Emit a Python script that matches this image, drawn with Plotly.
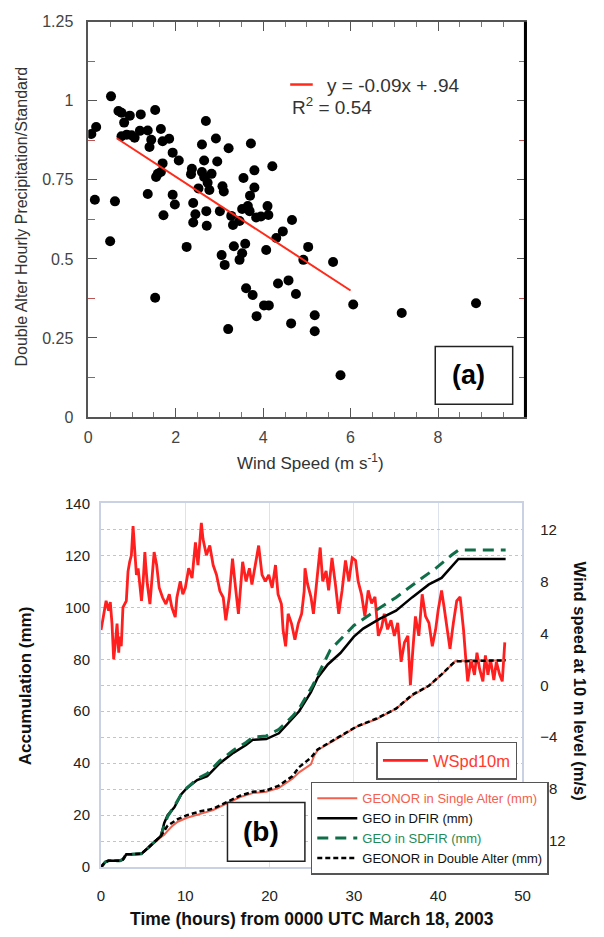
import plotly.graph_objects as go

# ---------------- (a) hourly catch ratio vs wind speed ----------------
wind_speed = [
    0.52, 0.07, 0.18, 0.15, 0.61, 0.69, 0.76, 0.95, 0.82, 1.20, 1.53, 0.76, 0.88, 0.99,
    1.06, 1.18, 1.36, 1.44, 1.40, 1.66, 1.70, 1.85, 1.93, 2.07, 1.70, 1.66, 1.59, 1.55,
    1.36, 1.93, 1.98, 1.72, 2.69, 2.92, 3.21, 2.60, 2.65, 2.95, 2.37, 2.35, 2.60, 2.65,
    2.82, 2.73, 2.52, 2.77, 3.10, 2.40, 2.45, 2.70, 3.01, 2.40, 2.71, 3.27, 3.31,
    3.72, 4.21, 3.80, 3.55, 3.80, 3.70, 3.07, 3.52, 3.65, 3.69, 4.10, 4.12, 3.84, 3.95,
    3.46, 4.66, 4.45, 4.30, 3.33, 3.59, 3.52, 3.46, 3.05, 3.12, 4.07, 5.03, 4.92, 5.60,
    3.61, 3.76, 4.02, 4.13, 3.85, 4.34, 4.58, 4.75, 6.06, 5.18, 4.64, 5.18, 3.20,
    0.50, 1.53, 2.25, 7.17, 8.87, 5.77,
]
catch_ratio = [
    1.014, 0.895, 0.917, 0.687, 0.682, 0.968, 0.962, 0.953, 0.931, 0.957, 0.971, 0.888, 0.893, 0.891,
    0.883, 0.905, 0.906, 0.877, 0.854, 0.911, 0.872, 0.880, 0.836, 0.811, 0.802, 0.775, 0.769, 0.759,
    0.705, 0.703, 0.672, 0.638, 0.936, 0.881, 0.850, 0.862, 0.811, 0.808, 0.785, 0.768, 0.775, 0.759,
    0.769, 0.741, 0.723, 0.718, 0.713, 0.677, 0.641, 0.651, 0.651, 0.615, 0.605, 0.636, 0.607,
    0.865, 0.793, 0.780, 0.756, 0.726, 0.700, 0.730, 0.658, 0.667, 0.651, 0.667, 0.639, 0.631, 0.634,
    0.620, 0.623, 0.587, 0.566, 0.540, 0.548, 0.518, 0.497, 0.512, 0.481, 0.528, 0.538, 0.497, 0.490,
    0.407, 0.386, 0.353, 0.353, 0.319, 0.422, 0.432, 0.389, 0.356, 0.322, 0.296, 0.271, 0.278,
    0.556, 0.377, 0.538, 0.329, 0.360, 0.132,
]
fit_slope = -0.09
fit_intercept = 0.94
fit_x = [0.65, 6.0]
fit_y = [fit_slope * x + fit_intercept for x in fit_x]
r_squared = 0.54

# ---------------- (b) accumulation and wind at 10 m ----------------
t_dfir = [0, 0.5, 0.9, 2.25, 2.6, 3.0, 3.6, 4.4, 4.8, 5.6, 6.1, 6.7, 7.1, 7.5, 7.9, 8.7, 9.5,
          10.2, 11.4, 12.6, 14.1, 15.7, 17.2, 18.0, 19.6, 21.1, 22.7, 23.5, 24.9, 25.7, 26.9,
          28.4, 30.0, 31.1, 33.1, 35.0, 36.9, 38.9, 40.4, 41.4, 42.4, 48.0]
acc_dfir = [0, 2, 2.5, 2.5, 3, 5, 5, 5, 5.2, 7.5, 9, 10.5, 12, 17, 20, 23, 28,
            30.5, 33.5, 35, 40, 44, 47, 49, 49.3, 51.5, 57, 60, 67.3, 72.9, 78,
            82.4, 88.7, 91.8, 95.6, 98.7, 103.8, 108.8, 111.3, 115, 118.6, 118.6]

t_sdfir = [0, 0.5, 0.9, 2.25, 2.6, 3.0, 3.6, 4.4, 4.8, 5.6, 6.1, 6.7, 7.1, 7.5, 7.9, 8.7, 9.5,
           10.2, 11.4, 12.6, 14.1, 15.7, 17.2, 18.0, 19.6, 21.1, 22.7, 23.5, 25.1, 27.2,
           30.0, 32.3, 35.0, 37.3, 39.7, 41.6, 42.4, 48.0]
acc_sdfir = [0, 2, 2.5, 2.5, 3, 5, 5, 5, 5.2, 7.5, 9, 10.5, 12, 16, 19.5, 23.5, 28,
             30.5, 34, 36, 41, 45, 48, 50, 50.5, 53, 58, 61, 69.8, 83.6,
             93, 98.1, 103.8, 109.4, 115, 120.1, 122, 122]

t_single = [0, 0.5, 0.9, 2.25, 2.6, 3.0, 3.6, 4.4, 4.8, 5.6, 6.1, 6.7, 7.1, 7.5, 7.9, 8.5, 9.1,
            10.2, 11.8, 13.3, 14.9, 16.5, 18.0, 19.6, 21.1, 22.7, 23.5, 24.9, 25.3, 25.7,
            28.0, 30.3, 32.7, 35.0, 36.9, 38.9, 40.4, 42.0, 48.0]
acc_single = [0, 2, 2.5, 2.5, 3, 5, 5, 5, 5.2, 7.5, 9, 10.5, 11.5, 12.5, 14, 16, 17.5,
              19, 20.5, 22, 24.5, 27, 28.5, 29, 30.5, 34, 36.5, 39.6, 43, 45,
              49.5, 54, 57, 61, 66, 69.8, 74, 79.2, 79.6]

t_double = [0, 0.5, 0.9, 2.25, 2.6, 3.0, 3.6, 4.4, 4.8, 5.6, 6.1, 6.7, 7.1, 7.5, 7.9, 9.1,
            10.2, 11.8, 13.3, 14.9, 16.5, 18.0, 19.6, 21.1, 22.7, 23.5, 24.9, 25.7,
            28.0, 30.3, 32.7, 35.0, 36.9, 38.9, 40.4, 42.0, 48.0]
acc_double = [0, 2, 2.5, 2.5, 3, 5, 5, 5, 5.2, 7.5, 9, 10.5, 12, 14, 16, 18.5,
              20, 21.5, 22.5, 25, 27.5, 29, 29.5, 31.4, 35, 38.5, 42.1, 45.3,
              49.7, 54.1, 57.2, 61, 66.3, 69.8, 74.2, 79.2, 79.6]

t_wind = [0.0, 0.3, 0.6, 0.9, 1.1, 1.3, 1.5, 1.7, 1.9, 2.1, 2.2, 2.4, 2.6, 3.0, 3.2, 3.4, 3.6,
          3.8, 4.0, 4.2, 4.4, 4.6, 4.8, 5.0, 5.2, 5.3, 5.5, 5.8, 6.1, 6.3, 6.6, 6.9, 7.3, 7.7,
          8.1, 8.4, 8.8, 9.0, 9.4, 9.7, 10.0, 10.4, 10.8, 11.2, 11.5, 11.9, 12.1, 12.5, 12.9,
          13.3, 13.7, 14.1, 14.5, 14.8, 15.2, 15.6, 16.0, 16.3, 16.8, 17.2, 17.6, 17.9, 18.3,
          18.7, 19.1, 19.5, 19.9, 20.3, 20.7, 21.0, 21.4, 21.6, 21.9, 22.2, 22.6, 23.0, 23.4,
          23.8, 24.1, 24.2, 24.5, 24.9, 25.2, 25.5, 26.0, 26.3, 26.7, 27.0, 27.4, 27.8, 28.2,
          28.6, 29.0, 29.4, 29.8, 30.2, 30.5, 30.9, 31.3, 31.7, 32.1, 32.5, 32.9, 33.3, 33.6,
          34.0, 34.4, 34.8, 35.2, 35.6, 36.0, 36.4, 36.7, 37.0, 37.3, 37.7, 38.1, 38.5, 38.9,
          39.3, 39.7, 40.0, 40.4, 40.7, 41.1, 41.4, 41.8, 42.2, 42.6, 43.0, 43.3, 43.5, 43.9,
          44.3, 44.6, 44.9, 45.3, 45.6, 45.9, 46.2, 46.6, 46.9, 47.3, 47.6, 47.9]
wspd10m = [4.25, 5.5, 6.5, 5.75, 6.4, 4.75, 2.0, 3.25, 4.75, 2.5, 3.75, 3.0, 6.0, 6.5, 8.75, 9.5, 10.0,
           12.25, 10.5, 8.5, 9.0, 7.75, 6.5, 8.0, 10.25, 9.25, 7.75, 6.25, 8.5, 10.25, 9.25, 7.5, 6.75, 6.25,
           7.0, 6.0, 5.25, 6.75, 8.0, 7.0, 7.5, 9.0, 8.25, 11.0, 9.25, 12.5, 11.25, 10.0, 10.75,
           9.25, 8.5, 7.25, 6.75, 5.0, 6.75, 9.75, 7.25, 5.5, 9.5, 8.0, 9.0, 7.75, 9.25,
           10.75, 8.5, 8.0, 8.5, 7.5, 9.25, 7.0, 6.25, 4.25, 3.0, 5.5, 4.75, 3.5, 4.75,
           5.5, 7.25, 9.0, 7.8, 6.8, 5.5, 7.5, 10.6, 8.0, 8.8, 7.3, 9.8, 7.8, 5.5,
           7.3, 9.6, 8.0, 9.8, 9.6, 8.0, 7.0, 5.3, 7.3, 6.3, 6.8, 3.8, 4.5, 5.5,
           4.3, 5.0, 3.8, 4.8, 1.8, 3.3, 3.8, 0.0, 2.8, 5.3, 3.8, 7.0, 5.3, 4.8,
           3.0, 4.3, 5.8, 7.3, 6.0, 4.3, 2.8, 4.8, 6.5, 6.8, 4.3, 1.8, 0.3, 2.0,
           0.8, 2.5, 1.3, 0.3, 2.3, 0.8, 2.0, 0.4, 1.8, 0.8, 0.3, 3.3]

accum_ticks = [0, 20, 40, 60, 80, 100, 120, 140]
wind_ticks = [-12, -8, -4, 0, 4, 8, 12]
time_ticks = [0, 10, 20, 30, 40, 50]

W, H = 604, 937
FONT = "Liberation Sans, Arial, sans-serif"


def fx(p):
    return p / W


def fy(p):
    return 1 - p / H


fig = go.Figure()

# panel (a)
fig.add_trace(go.Scatter(
    x=wind_speed, y=catch_ratio, mode="markers", xaxis="x", yaxis="y",
    marker=dict(color="black", size=10), showlegend=False, hoverinfo="x+y"))
fig.add_trace(go.Scatter(
    x=fit_x, y=fit_y, mode="lines", xaxis="x", yaxis="y",
    line=dict(color="#ff2a1a", width=2), showlegend=False))

# panel (b): wind on the base axis so the gauge curves draw above it
fig.add_trace(go.Scatter(
    x=t_wind, y=wspd10m, mode="lines", xaxis="x2", yaxis="y2",
    line=dict(color="#ff1f1f", width=2.8), name='<span style="color:#ff3b30">WSpd10m</span>',
    legend="legend2"))
fig.add_trace(go.Scatter(
    x=t_single, y=acc_single, mode="lines", xaxis="x2", yaxis="y3",
    line=dict(color="#f2604e", width=2),
    name='<span style="color:#f2604e">GEONOR in Single Alter (mm)</span>', legend="legend3"))
fig.add_trace(go.Scatter(
    x=t_dfir, y=acc_dfir, mode="lines", xaxis="x2", yaxis="y3",
    line=dict(color="black", width=2.5),
    name='<span style="color:#111">GEO in DFIR (mm)</span>', legend="legend3"))
fig.add_trace(go.Scatter(
    x=t_sdfir, y=acc_sdfir, mode="lines", xaxis="x2", yaxis="y3",
    line=dict(color="#0f6e48", width=3, dash="11px,7px"),
    name='<span style="color:#1f8a55">GEO in SDFIR (mm)</span>', legend="legend3"))
fig.add_trace(go.Scatter(
    x=t_double, y=acc_double, mode="lines", xaxis="x2", yaxis="y3",
    line=dict(color="black", width=2.5, dash="5px,3px"),
    name='<span style="color:#111">GEONOR in Double Alter (mm)</span>', legend="legend3"))

top_dom_x = [fx(86), fx(532)]
top_dom_y = [fy(416), fy(13)]
bot_dom_x = [fx(99), fx(529)]
bot_dom_y = [fy(875), fy(504)]

fig.update_layout(
    width=W, height=H, margin=dict(l=0, r=0, t=0, b=0),
    paper_bgcolor="white", plot_bgcolor="white",
    font=dict(family=FONT),
    xaxis=dict(
        domain=top_dom_x, anchor="y", range=[0, 10],
        tickvals=[0, 2, 4, 6, 8], ticks="inside", ticklen=9, tickwidth=1.2, tickcolor="#555",
        minor=dict(dtick=0.5, ticks="inside", ticklen=5, tickcolor="#777"),
        showline=True, linecolor="#555", linewidth=1.5, mirror="ticks",
        showgrid=False, zeroline=False,
        tickfont=dict(size=16, color="#444"), ticklabelstandoff=5),
    yaxis=dict(
        domain=top_dom_y, anchor="x", range=[0, 1.25],
        tickvals=[0, 0.25, 0.5, 0.75, 1, 1.25], ticktext=["0", "0.25", "0.5", "0.75", "1", "1.25"],
        ticks="inside", ticklen=9, tickwidth=1.2, tickcolor="#555",
        minor=dict(dtick=0.125, ticks="inside", ticklen=7, tickcolor="#b55"),
        showline=True, linecolor="#555", linewidth=1.5, mirror="ticks",
        showgrid=False, zeroline=False,
        tickfont=dict(size=16, color="#444"), ticklabelstandoff=10),
    xaxis2=dict(
        domain=bot_dom_x, anchor="y2", range=[0, 50], tickvals=time_ticks,
        showline=True, linecolor="#c9d1e2", linewidth=1.5, mirror=True,
        showgrid=True, gridcolor="#dde3ee", gridwidth=1, zeroline=False, ticks="",
        tickfont=dict(size=15, color="#222"), ticklabelstandoff=14,
        title=dict(text="<b>Time (hours) from 0000 UTC March 18, 2003</b>",
                   font=dict(size=17.5, color="#111"), standoff=10)),
    yaxis2=dict(
        domain=bot_dom_y, anchor="x2", side="right", range=[-14, 14], tickvals=wind_ticks,
        showline=True, linecolor="#c9d1e2", linewidth=1.5, mirror=True,
        showgrid=True, gridcolor="#c4c4c4", griddash="dot", gridwidth=1.2, zeroline=False, ticks="",
        tickfont=dict(size=15, color="#222"), ticklabelstandoff=13),
    yaxis3=dict(
        overlaying="y2", anchor="x2", side="left", range=[0, 140], tickvals=accum_ticks,
        showline=False,
        showgrid=True, gridcolor="#c4c4c4", griddash="dot", gridwidth=1.2, zeroline=False, ticks="",
        tickfont=dict(size=15, color="#222"), ticklabelstandoff=10),
    legend2=dict(
        x=fx(380), y=fy(747), xanchor="left", yanchor="top",
        bgcolor="white", bordercolor="#555", borderwidth=1.5,
        font=dict(size=16.5, family=FONT), itemwidth=45),
    legend3=dict(
        x=fx(313), y=fy(788), xanchor="left", yanchor="top",
        bgcolor="white", bordercolor="#555", borderwidth=1.5,
        font=dict(size=13, family=FONT), itemwidth=40, tracegroupgap=0),
)

shapes = [
    # heavy right frame of panel (a)
    dict(type="line", xref="x domain", yref="y domain", x0=1, x1=1, y0=0, y1=1,
         line=dict(color="black", width=3)),
    # panel labels
    dict(type="rect", xref="paper", yref="paper", x0=fx(440), x1=fx(519), y0=fy(403), y1=fy(344),
         line=dict(color="#222", width=1.5), fillcolor="white"),
    dict(type="rect", xref="paper", yref="paper", x0=fx(228), x1=fx(307), y0=fy(869), y1=fy(809),
         line=dict(color="#222", width=1.5), fillcolor="white"),
    # legend key for the regression line
    dict(type="line", xref="paper", yref="paper", x0=fx(292), x1=fx(315), y0=fy(77), y1=fy(77),
         line=dict(color="#ff2a1a", width=2.5)),
]
fig.update_layout(shapes=shapes)

annotations = [
    dict(text=f"y = {fit_slope:.2f}x + {str(fit_intercept)[1:]}", x=fx(328), y=fy(78),
         xanchor="left", yanchor="middle", font=dict(size=19, color="#333")),
    dict(text=f"R<sup>2</sup> = {r_squared:.2f}", x=fx(292), y=fy(99),
         xanchor="left", yanchor="middle", font=dict(size=19, color="#333")),
    dict(text="<b>(a)</b>", x=fx(474), y=fy(373), xanchor="center", yanchor="middle",
         font=dict(size=27, color="black")),
    dict(text="<b>(b)</b>", x=fx(262), y=fy(839), xanchor="center", yanchor="middle",
         font=dict(size=28, color="black")),
    dict(text="Wind Speed (m s<sup>-1</sup>)", x=fx(313), y=fy(462), xanchor="center",
         yanchor="middle", font=dict(size=17, color="#333")),
    dict(text="Double Alter Hourly Precipitation/Standard", x=fx(18), y=fy(212),
         xanchor="center", yanchor="middle", textangle=-90, font=dict(size=16, color="#333")),
    dict(text="<b>Accumulation (mm)</b>", x=fx(22), y=fy(690), xanchor="center",
         yanchor="middle", textangle=-90, font=dict(size=17, color="#111")),
    dict(text="<b>Wind speed at 10 m level (m/s)</b>", x=fx(588), y=fy(685), xanchor="center",
         yanchor="middle", textangle=90, font=dict(size=16.5, color="#111")),
]
for a in annotations:
    a.update(xref="paper", yref="paper", showarrow=False)
fig.update_layout(annotations=annotations)

fig.write_html("out.html")
